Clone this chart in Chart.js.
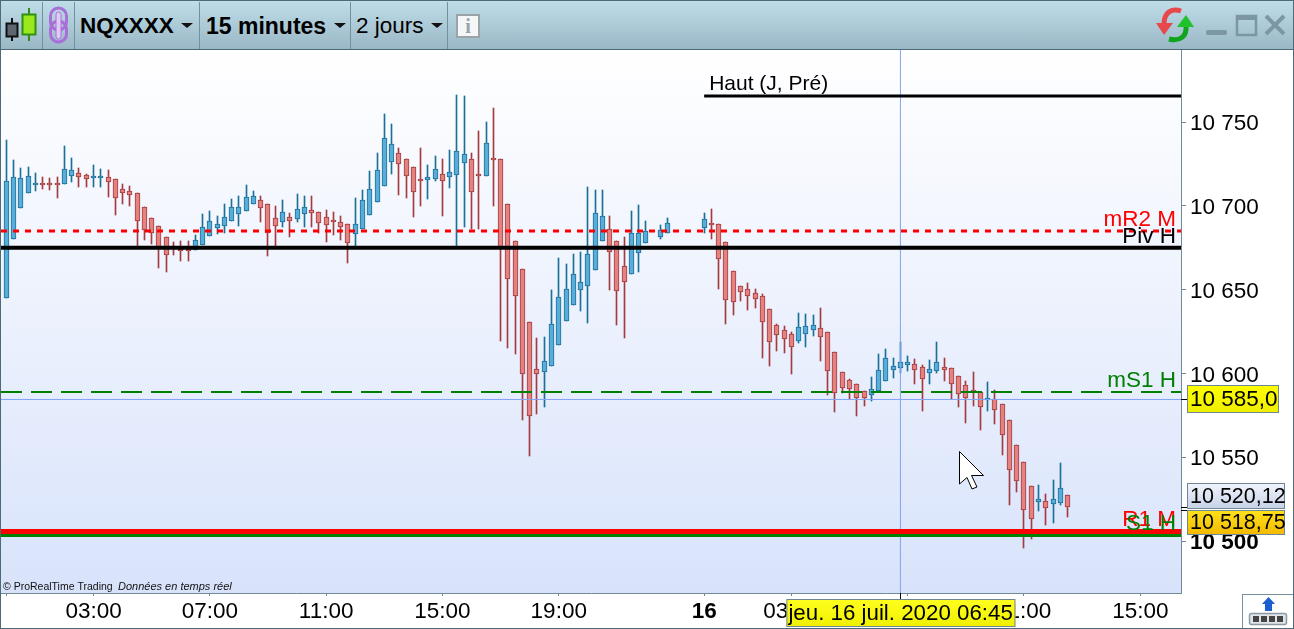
<!DOCTYPE html>
<html lang="fr">
<head>
<meta charset="utf-8">
<title>NQXXXX 15 minutes</title>
<script src="https://cdn.jsdelivr.net/npm/chart.js@4/dist/chart.umd.min.js"></script>
<style>
  html, body { margin: 0; padding: 0; background: #fff; overflow: hidden; }
  body { width: 1294px; height: 629px; position: relative; font-family: "Liberation Sans", Arial, sans-serif; color: #000; }
  canvas { position: absolute; left: 0; top: 0; }
  #toolbar {
    position: absolute; left: 0; top: 0; width: 1294px; height: 50px; box-sizing: border-box;
    border-top: 1px solid #4d6a78; border-bottom: 1px solid #4d6a78;
    background: linear-gradient(#bfdde9, #9ab7c5);
  }
  .sep { position: absolute; top: 1px; bottom: 0; width: 1px; background: #73909d; }
  .label { position: absolute; top: 12px; font-size: 22.5px; line-height: 26px; white-space: nowrap; }
  .bold { font-weight: bold; }
  .caret { position: absolute; top: 22px; width: 0; height: 0; border-left: 6px solid transparent; border-right: 6px solid transparent; border-top: 5px solid #111; }
  svg { position: absolute; left: 0; top: 0; pointer-events: none; }
  #frame { position: absolute; left: 0; top: 0; width: 1294px; height: 629px; box-sizing: border-box; border: 1px solid #4d6a78; pointer-events: none; }
  #corner { position: absolute; left: 1242px; top: 594px; width: 52px; height: 35px; box-sizing: border-box; background: #fff; border: 1px solid #73909d; }
</style>
</head>
<body>
<canvas id="chart" width="1294" height="629"></canvas>

<div id="toolbar">
  <div class="sep" style="left:42px"></div>
  <div class="sep" style="left:74px"></div>
  <div class="sep" style="left:199px"></div>
  <div class="sep" style="left:350px"></div>
  <div class="sep" style="left:447px"></div>
  <span class="label bold" style="left:80px">NQXXXX</span>
  <span class="caret" style="left:181px"></span>
  <span class="label bold" style="left:206px;font-size:23px">15 minutes</span>
  <span class="caret" style="left:334px"></span>
  <span class="label" style="left:356px">2 jours</span>
  <span class="caret" style="left:431px"></span>
</div>
<div id="corner"></div>

<svg width="1294" height="629" viewBox="0 0 1294 629">
  <!-- candle icon -->
  <path d="M12 18V41" stroke="#111" stroke-width="2"/>
  <rect x="6.5" y="23.5" width="11" height="13" fill="#5d6670" stroke="#111" stroke-width="2"/>
  <path d="M29 8V41" stroke="#2f8f14" stroke-width="2"/>
  <rect x="22.5" y="14.5" width="13" height="20" fill="#9be81c" stroke="#2f8f14" stroke-width="2"/>
  <!-- link icon -->
  <rect x="50.5" y="8" width="16" height="22" rx="8" fill="none" stroke="#a86fd8" stroke-width="3"/>
  <rect x="50.5" y="21" width="16" height="21" rx="8" fill="none" stroke="#a86fd8" stroke-width="3"/>
  <rect x="56" y="12" width="5" height="27" rx="2.5" fill="#e3c8f5" stroke="#a86fd8" stroke-width="1"/>
  <!-- info icon -->
  <rect x="457" y="15" width="22" height="22" fill="#f4f6f7" stroke="#9aa3a8" stroke-width="2"/>
  <text x="468" y="33" font-family="Liberation Serif" font-weight="bold" font-size="20" text-anchor="middle" fill="#9aa3a8">i</text>
  <!-- refresh arrows -->
  <path d="M1181 11 C1172 8 1164 12 1164 24" fill="none" stroke="#e8484c" stroke-width="5"/>
  <path d="M1156 23 H1173 L1164 35 Z" fill="#e8484c"/>
  <path d="M1169 39 C1180 42 1187 36 1186 26" fill="none" stroke="#0fa41c" stroke-width="5"/>
  <path d="M1177 27 H1194 L1186 15 Z" fill="#1fc22a"/>
  <!-- window buttons -->
  <rect x="1206" y="30" width="21" height="5" rx="2" fill="#7d96a3"/>
  <rect x="1237" y="16" width="19" height="19" fill="none" stroke="#7d96a3" stroke-width="2.5"/>
  <rect x="1237" y="15" width="19" height="5" fill="#7d96a3"/>
  <path d="M1266 16 L1284 34 M1284 16 L1266 34" stroke="#7d96a3" stroke-width="4"/>
  <!-- corner button -->
  <path d="M1268.5 597 L1275 604 H1272 V611 H1265 V604 H1262 Z" fill="#1a5fd0"/>
  <rect x="1249.5" y="613.5" width="37" height="11" rx="2" fill="#dfe5e9" stroke="#8d9aa2" stroke-width="1.5"/>
  <rect x="1253" y="616" width="6" height="6" fill="#444"/>
  <rect x="1261" y="616" width="6" height="6" fill="#444"/>
  <rect x="1269" y="616" width="6" height="6" fill="#444"/>
  <rect x="1277" y="616" width="6" height="6" fill="#444"/>
  <!-- mouse cursor -->
  <path d="M959.5 451.5 L983.5 475.5 H971.5 L977 487 L972 489 L967 477.5 L959.5 484 Z" fill="#fff" stroke="#000" stroke-width="1"/>
</svg>
<div id="frame"></div>

<script>
// 15 minute candles, one slot per quarter hour starting at 00:00 on the 15th
const opens = [
  10644.9, 10680.1, 10698.6, 10707.6, 10712.7, 10713.2, 10713.2, 10713.2, 10712.9, 10717.7,
  10719.5, 10718.3, 10716.9, 10716.9, 10717.1, 10715.9, 10709.9, 10708.8, 10707.6, 10699.2,
  10692.6, 10687.9, 10681.3, 10675.1, 10674.1, 10673.7, 10673.5, 10676.5, 10681.9, 10686.7,
  10687.9, 10690.8, 10695, 10696.8, 10701, 10703.4, 10701, 10692.6, 10690.2, 10693.2,
  10692, 10695, 10697.4, 10696.2, 10693.2, 10690.6, 10690.2, 10689, 10683.1, 10686.1,
  10694.4, 10702.2, 10711.7, 10726.1, 10731.4, 10727.8, 10723.1, 10715.9, 10715.3, 10715.9,
  10718.9, 10717.1, 10718.3, 10725.5, 10727.8, 10718.1, 10717.7, 10727.7, 10727.8, 10701,
  10678.9, 10662.2, 10630.5, 10602.5, 10600.7, 10604.3, 10616.8, 10631.2, 10640.7, 10649.7,
  10652, 10661.6, 10678.9, 10686.1, 10678.9, 10664, 10659.2, 10671.7, 10677.7, null,
  10681.3, 10683.7, null, null, null, null, 10686.7, 10689.2, 10689, 10678.3,
  10661, 10652, 10650.2, 10647.8, 10646, 10638.3, 10628.8, 10625.8, 10623.4, 10619.2,
  10623.4, 10625.8, 10627, 10624.6, 10612.6, 10600.7, 10595.9, 10593.5, 10589.4, 10586.9,
  10589.4, 10595.3, 10601.9, 10603.1, 10604.9, 10605.5, 10603.7, 10600.1, 10601.3, 10603.7,
  10603.1, 10598.3, 10592.9, 10589.4, 10588.8, 10584.4, 10584.6, 10581.6, 10572, 10557.1,
  10547, 10532.6, 10523.1, 10523.7, 10521.9, 10522.9, 10527.3
]
const closes = [
  10714.7, 10717.1, 10716.5, 10717.7, 10713.3, 10712.8, 10712.8, 10712.8, 10721.9, 10721.3,
  10717.1, 10715.9, 10717.3, 10717.3, 10714.1, 10704.6, 10707.6, 10706.4, 10690.8, 10685.5,
  10683.7, 10675.3, 10670.5, 10674.7, 10672.9, 10673.3, 10679.5, 10687.3, 10690.8, 10689,
  10693.2, 10699.2, 10699.2, 10705.2, 10705.8, 10698.6, 10683.7, 10687.9, 10696.2, 10690.8,
  10698, 10699.2, 10695.6, 10689.6, 10688.5, 10690.2, 10687.3, 10677.7, 10689, 10703.4,
  10709.9, 10721.3, 10740.4, 10736.8, 10724.9, 10717.7, 10708.2, 10714.7, 10717.1, 10721.9,
  10714.7, 10720.1, 10732.6, 10730.8, 10708.2, 10717.7, 10737.4, 10727.3, 10675.3, 10656.2,
  10646.1, 10599.5, 10574.4, 10599.5, 10607.3, 10629.4, 10645.5, 10650.2, 10659.2, 10654.4,
  10671.1, 10695.6, 10693.8, 10672.3, 10649, 10654.4, 10683.7, 10683.7, 10684.9, null,
  10685.5, 10689.6, null, null, null, null, 10692, 10688.8, 10668.2, 10643.7,
  10642.5, 10648.5, 10646, 10644.3, 10630.5, 10618.6, 10622.8, 10620.4, 10615.6, 10627.6,
  10628.2, 10628.8, 10621.6, 10601.3, 10588.2, 10591.1, 10590.5, 10585.2, 10585.2, 10590.5,
  10601.9, 10609.1, 10604.3, 10606.7, 10606.7, 10601.9, 10596.5, 10602.5, 10606.7, 10601.9,
  10593.5, 10587.6, 10585.2, 10589, 10579.8, 10584.8, 10578, 10563.1, 10542.2, 10536,
  10518.3, 10512.9, 10524.9, 10519.5, 10524.9, 10531.4, 10520.1
]
const highs = [
  10739.4, 10727.5, 10722.7, 10723.3, 10719.7, 10717.3, 10716.7, 10717.3, 10735.8, 10728.7,
  10722.7, 10719.1, 10724.5, 10722.1, 10721.5, 10715.9, 10713.1, 10711.9, 10707.6, 10699.2,
  10692.6, 10687.9, 10681.3, 10678.5, 10679.1, 10679.1, 10682.7, 10695, 10696.8, 10694,
  10701.2, 10704.2, 10706, 10712.5, 10708.9, 10706, 10701, 10700, 10703.6, 10695.8,
  10707.2, 10706, 10706, 10696.2, 10697.4, 10696.4, 10694, 10689, 10704.8, 10709.6,
  10720.9, 10731.6, 10754.9, 10749, 10734.4, 10727.8, 10723.1, 10734.6, 10724.5, 10729.8,
  10728, 10733.4, 10766.3, 10765.7, 10731.4, 10744.8, 10750.2, 10758.5, 10727.8, 10701,
  10678.9, 10662.2, 10630.5, 10621.2, 10621.8, 10649.9, 10668.9, 10665.4, 10671.3, 10672.3,
  10711.1, 10709.6, 10709.6, 10693.8, 10678.9, 10681.3, 10696.8, 10700.4, 10690.8, null,
  10688.4, 10692.8, null, null, null, null, 10695.6, 10698.2, 10689, 10678.3,
  10661, 10652, 10654, 10650.4, 10647.3, 10638.3, 10629.6, 10628.4, 10624.6, 10636.1,
  10635.5, 10634.9, 10639.1, 10624.6, 10612.6, 10600.7, 10596.5, 10593.5, 10589.4, 10597.7,
  10611.4, 10614.4, 10609.1, 10618.6, 10610.2, 10608.5, 10604.9, 10607.9, 10618.6, 10609.1,
  10603.1, 10598.3, 10595.3, 10600.7, 10588.8, 10594.7, 10590, 10581.6, 10572, 10557.1,
  10547, 10532.6, 10533.2, 10527.9, 10536.2, 10546.4, 10527.3
]
const lows = [
  10644.9, 10680.1, 10698.6, 10707.6, 10709, 10710.2, 10709.6, 10704.8, 10712.9, 10714.3,
  10711.3, 10711.3, 10711.3, 10711.3, 10705.4, 10694.6, 10701.2, 10700, 10674.7, 10679.7,
  10677.3, 10663.2, 10660.8, 10670.7, 10667.2, 10667.2, 10673.5, 10676.5, 10681.9, 10683.1,
  10684.1, 10690.8, 10688.3, 10696.8, 10701, 10690.4, 10670.2, 10674.7, 10687.7, 10681.7,
  10690.4, 10687.7, 10687.7, 10683.7, 10678.7, 10682.9, 10679.7, 10666.2, 10675.7, 10686.1,
  10694.4, 10702.2, 10711.7, 10719.1, 10706.6, 10704.8, 10693.4, 10700, 10704.2, 10715.1,
  10694, 10710.7, 10675.7, 10687.5, 10686.3, 10686.3, 10717.7, 10700, 10619.4, 10615.2,
  10611.6, 10572.3, 10550.8, 10575.8, 10580, 10604.3, 10616.8, 10631.2, 10640.7, 10637.3,
  10630.2, 10661.6, 10678.9, 10649.9, 10629, 10621.2, 10659.2, 10660.6, 10677.7, null,
  10680.1, 10683.7, null, null, null, null, 10683.7, 10680.1, 10650.4, 10629.6,
  10634.9, 10643.3, 10637.9, 10639.1, 10609.3, 10604.5, 10613.2, 10612.2, 10599.7, 10618.2,
  10615.8, 10622.4, 10607.5, 10587.2, 10577, 10588.2, 10584.8, 10574.6, 10580.6, 10583.6,
  10589.4, 10595.3, 10597.3, 10600.5, 10601.7, 10593.7, 10577.8, 10593.7, 10600.1, 10595.5,
  10584.6, 10580, 10570.5, 10580.6, 10566.3, 10577.6, 10569.8, 10551.3, 10521.5, 10529.3,
  10495.8, 10501.2, 10517.9, 10509.6, 10510.7, 10521.5, 10514.3
]

const yTicks = [10500, 10550, 10600, 10650, 10700, 10750]
const xTickSlots = [0, 12, 28, 44, 60, 76, 96, 108, 124, 140, 156]
const xTickLabels = ["", "03:00", "07:00", "11:00", "15:00", "19:00", "16", "03:00", "07:00", "11:00", "15:00"]

// horizontal levels
const levelNames = ["mR2 M", "Piv H", "mS1 H", "R1 M", "S1 H"]
const levelValues = [10685, 10675, 10589, 10505.7, 10503.3]
const levelColors = ["#ff0000", "#000000", "#008000", "#ff0000", "#008000"]
const levelWidths = [3, 4, 2, 5, 3]
const levelDashes = [[6, 6], [], [21, 9], [], []]
const highName = "Haut (J, Pré)"
const highValue = 10765.7
const highStartSlot = 96

const cursorSlot = 123
const cursorPrice = 10584.5
const cursorDate = "jeu. 16 juil. 2020 06:45"
const prevPrice = 10520.12
const lastPrice = 10518.75

const xMin = -0.73
const xMax = 161.6
const yMin = 10468.96
const yMax = 10793.13

const BLUE_FILL = "#58aed8"
const BLUE_LINE = "#1b7098"
const RED_FILL = "#e4827f"
const RED_LINE = "#a43b40"
const AXIS_GREY = "#708a96"
const CROSS_BLUE = "#80a2f2"
const FONT = '"Liberation Sans", Arial, sans-serif'

function priceLabel(value) {
  const text = String(Math.round(value))
  return text.slice(0, 2) + " " + text.slice(2)
}

function slots() {
  const list = []
  opens.forEach((open, i) => {
    if (open !== null) list.push(i)
  })
  return list
}

const candles = slots()
const isUp = (i) => closes[i] >= opens[i]

function wickDataset() {
  return {
    type: "bar",
    data: candles.map((i) => ({ x: i, y: [lows[i], highs[i]] })),
    backgroundColor: candles.map((i) => (isUp(i) ? BLUE_LINE : RED_LINE)),
    borderWidth: 0,
    barThickness: 1,
    grouped: false,
    order: 20,
  }
}

function bodyDataset() {
  return {
    type: "bar",
    data: candles.map((i) => ({ x: i, y: [opens[i], closes[i]] })),
    backgroundColor: candles.map((i) => (isUp(i) ? BLUE_FILL : RED_FILL)),
    borderColor: candles.map((i) => (isUp(i) ? BLUE_LINE : RED_LINE)),
    borderWidth: 1,
    borderSkipped: false,
    barThickness: 5,
    minBarLength: 2,
    grouped: false,
    order: 10,
  }
}

function lineDataset(points, color, width, dash, order) {
  return {
    type: "line",
    data: points,
    borderColor: color,
    borderWidth: width,
    borderDash: dash,
    pointRadius: 0,
    fill: false,
    tension: 0,
    order: order,
  }
}

const levelDatasets = levelValues.map((value, i) =>
  lineDataset([{ x: xMin, y: value }, { x: xMax, y: value }], levelColors[i], levelWidths[i], levelDashes[i], 5 - i)
)

const backdrop = {
  id: "backdrop",
  beforeDraw(chart) {
    const { ctx, chartArea: a } = chart
    const gradient = ctx.createLinearGradient(0, a.top, 0, a.bottom)
    gradient.addColorStop(0, "#ffffff")
    gradient.addColorStop(1, "#d8e3fb")
    ctx.fillStyle = gradient
    ctx.fillRect(a.left, a.top, a.right - a.left, a.bottom - a.top)
  },
}

// keep wicks and bodies on whole pixels, the platform draws them crisp
const snapCandles = {
  id: "snapCandles",
  beforeDatasetsDraw(chart) {
    for (const index of [0, 1]) {
      chart.getDatasetMeta(index).data.forEach((bar) => {
        bar.x = Math.floor(bar.x) + 0.5
        bar.y = Math.round(bar.y)
        bar.base = Math.round(bar.base)
        if (index === 1 && bar.base - bar.y < 2) bar.base = bar.y + 2
        bar.height = bar.base - bar.y
      })
    }
  },
}

const levelLabels = {
  id: "levelLabels",
  afterDatasetsDraw(chart) {
    const { ctx, chartArea: a, scales } = chart
    ctx.save()
    ctx.font = "22.5px " + FONT
    ctx.textBaseline = "alphabetic"
    ctx.textAlign = "right"
    levelNames.forEach((name, i) => {
      ctx.fillStyle = levelColors[i]
      ctx.fillText(name, a.right - 5, scales.y.getPixelForValue(levelValues[i]) - 5)
    })
    ctx.textAlign = "left"
    ctx.font = "21px " + FONT
    ctx.fillStyle = "#000"
    ctx.fillText(highName, scales.x.getPixelForValue(highStartSlot) + 5, scales.y.getPixelForValue(highValue) - 6)

    ctx.font = "10.5px " + FONT
    ctx.fillStyle = "#111"
    ctx.fillText("© ProRealTime Trading", a.left + 2, a.bottom - 3)
    ctx.font = "italic 11px " + FONT
    ctx.fillText("Données en temps réel", a.left + 117, a.bottom - 3)
    ctx.restore()
  },
}

function tag(ctx, x, y, w, h, top, bottom, text, textX) {
  const gradient = ctx.createLinearGradient(0, y, 0, y + h)
  gradient.addColorStop(0, top)
  gradient.addColorStop(1, bottom)
  ctx.fillStyle = gradient
  ctx.fillRect(x, y, w, h)
  ctx.strokeStyle = "#6f8794"
  ctx.lineWidth = 1
  ctx.strokeRect(x + 0.5, y + 0.5, w - 1, h - 1)
  ctx.fillStyle = "#000"
  ctx.fillText(text, textX, y + h / 2 + 1)
}

const priceTags = {
  id: "priceTags",
  afterDraw(chart) {
    const { ctx, chartArea: a, scales } = chart
    const cursorY = scales.y.getPixelForValue(cursorPrice)
    const prevY = scales.y.getPixelForValue(prevPrice)
    const lastY = scales.y.getPixelForValue(lastPrice)
    const cursorX = scales.x.getPixelForValue(cursorSlot)
    ctx.save()
    ctx.strokeStyle = "#000"
    ctx.lineWidth = 1
    ctx.beginPath()
    for (const y of [cursorY, prevY, lastY]) {
      ctx.moveTo(a.right, Math.round(y) + 0.5)
      ctx.lineTo(a.right + 6, Math.round(y) + 0.5)
    }
    ctx.moveTo(Math.round(cursorX) + 0.5, a.bottom)
    ctx.lineTo(Math.round(cursorX) + 0.5, a.bottom + 7)
    ctx.stroke()

    ctx.textBaseline = "middle"
    ctx.textAlign = "left"
    ctx.font = "22.5px " + FONT
    tag(ctx, a.right + 6, Math.round(cursorY) - 14, 92, 28, "#ffff00", "#eeee00", "10 585,0", a.right + 9)
    ctx.font = "21.5px " + FONT
    tag(ctx, a.right + 6, Math.round(prevY) - 24, 98, 26, "#f2f5fc", "#c6d1e8", "10 520,12", a.right + 9)
    tag(ctx, a.right + 6, Math.round(lastY), 98, 25, "#ffe31c", "#f2b800", "10 518,75", a.right + 9)
    ctx.font = "22.3px " + FONT
    tag(ctx, cursorX - 114, a.bottom + 6, 229, 28, "#ffff20", "#f0f000", cursorDate, cursorX - 112)
    ctx.restore()
  },
}

new Chart(document.getElementById("chart"), {
  data: {
    datasets: [
      wickDataset(),
      bodyDataset(),
      lineDataset([{ x: xMin, y: cursorPrice }, { x: xMax, y: cursorPrice }], CROSS_BLUE, 1, [], 8),
      lineDataset([{ x: cursorSlot, y: yMin }, { x: cursorSlot, y: yMax }], CROSS_BLUE, 1, [], 7),
      lineDataset([{ x: highStartSlot, y: highValue }, { x: xMax, y: highValue }], "#000000", 3, [], 6),
      ...levelDatasets,
    ],
  },
  plugins: [backdrop, snapCandles, levelLabels, priceTags],
  options: {
    responsive: false,
    devicePixelRatio: 1,
    animation: false,
    layout: { padding: { left: 1, top: 50, right: 0, bottom: 0 } },
    plugins: { legend: { display: false }, tooltip: { enabled: false } },
    scales: {
      x: {
        type: "linear",
        min: xMin,
        max: xMax,
        offset: false,
        afterBuildTicks: (axis) => {
          axis.ticks = xTickSlots.map((value) => ({ value }))
        },
        afterFit: (axis) => {
          axis.height = 36
        },
        grid: { offset: false, drawOnChartArea: false, color: AXIS_GREY, tickLength: 3 },
        border: { color: AXIS_GREY },
        ticks: {
          autoSkip: false,
          maxRotation: 0,
          padding: 2,
          color: "#000",
          font: (c) => ({ family: FONT, size: 22.5, weight: c.tick && c.tick.value === 96 ? "bold" : "normal" }),
          callback: (value) => xTickLabels[xTickSlots.indexOf(value)],
        },
      },
      y: {
        position: "right",
        min: yMin,
        max: yMax,
        afterBuildTicks: (axis) => {
          axis.ticks = yTicks.map((value) => ({ value }))
        },
        afterFit: (axis) => {
          axis.width = 113
        },
        grid: { drawOnChartArea: false, color: AXIS_GREY, tickLength: 5 },
        border: { color: AXIS_GREY },
        ticks: {
          padding: 4,
          labelOffset: 2,
          color: "#000",
          font: (c) => ({ family: FONT, size: 22.5, weight: c.tick && c.tick.value === 10500 ? "bold" : "normal" }),
          callback: (value) => priceLabel(value),
        },
      },
    },
  },
})
</script>
</body>
</html>
